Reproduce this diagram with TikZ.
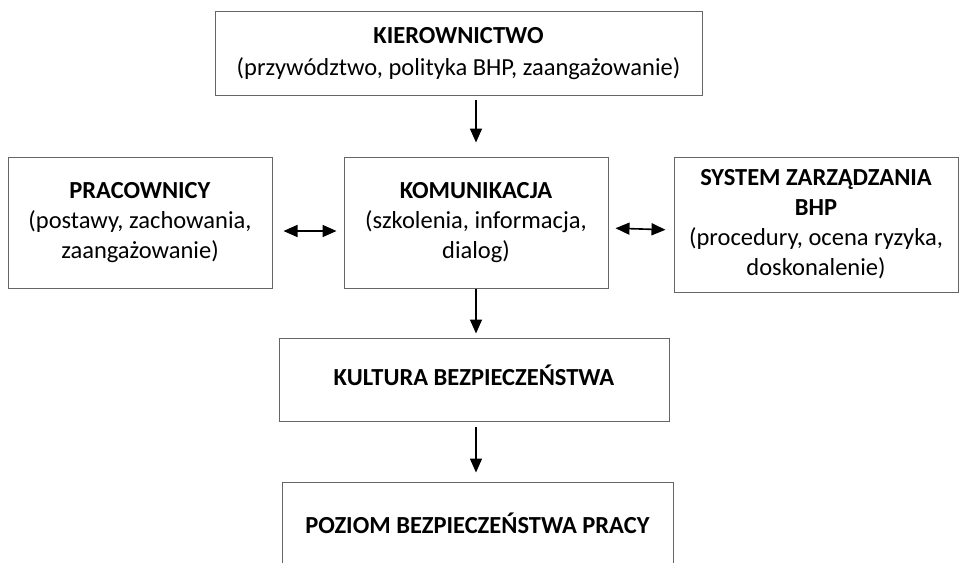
\documentclass[tikz,border=0pt]{standalone}
\usepackage{fontspec}
\setmainfont{Carlito}
\usepackage{tikz}
\usetikzlibrary{arrows.meta, positioning}

% text of a box, lowered a little inside it
\newcommand{\boxtext}[2][0pt]{\raisebox{#1}{\begin{tabular}{@{}c@{}}#2\end{tabular}}}

\begin{document}
\begin{tikzpicture}[
    x=1pt, y=-1pt,
    % Styles
    box/.style={rectangle, draw=black!60, line width=1pt, fill=white, inner sep=0pt,
        font=\fontsize{24.5}{30}\selectfont},
    arrow/.style={-{Triangle[width=12pt,length=14pt]}, line width=1.6pt, color=black},
    biarrow/.style={{Triangle[width=12pt,length=14pt]}-{Triangle[width=12pt,length=14pt]}, line width=1.6pt, color=black}
]
\clip (0,0) rectangle (960,562);
\useasboundingbox (0,0) rectangle (960,562);

% Top box
\node[box, minimum width=487pt, minimum height=84pt] (kier) at (458.5,53) {
    \boxtext[-7pt]{\textbf{KIEROWNICTWO}\\[2pt] (przywództwo, polityka BHP, zaangażowanie)}
};

% Middle row
\node[box, minimum width=264pt, minimum height=131pt] (prac) at (140,222.5) {
    \boxtext[-7pt]{\textbf{PRACOWNICY}\\ (postawy, zachowania,\\ zaangażowanie)}
};
\node[box, minimum width=264pt, minimum height=131pt] (komu) at (476,222.5) {
    \boxtext[-7pt]{\textbf{KOMUNIKACJA}\\ (szkolenia, informacja,\\ dialog)}
};
\node[box, minimum width=284pt, minimum height=135pt] (sys) at (816,224.5) {
    \boxtext[-1pt]{\textbf{SYSTEM ZARZĄDZANIA}\\ \textbf{BHP}\\ (procedury, ocena ryzyka,\\ doskonalenie)}
};

% Lower boxes
\node[box, minimum width=390pt, minimum height=83pt] (kult) at (474,379.5) {
    \boxtext[-3pt]{\textbf{KULTURA BEZPIECZEŃSTWA}}
};
\node[box, minimum width=391pt, minimum height=90pt] (poz) at (477.5,527) {
    \boxtext[-2pt]{\textbf{POZIOM BEZPIECZEŃSTWA PRACY}}
};

% Arrows
\draw[arrow, shorten <=4pt, shorten >=14pt] (kier.south -| komu.north) -- (komu.north);
\draw[arrow, shorten >=4pt] (komu.south) -- (kult.north -| komu.south);
\draw[arrow, shorten <=5pt, shorten >=9pt] (kult.south -| komu.south) -- (poz.north -| komu.south);
\draw[biarrow, shorten <=11pt, shorten >=7pt] ([yshift=-8.5pt]prac.east) -- ([yshift=-8.5pt]komu.west);
\draw[biarrow, shorten <=7pt, shorten >=8pt] ([yshift=-5.5pt]komu.east) -- ([yshift=-5.5pt]sys.west);

\end{tikzpicture}
\end{document}
